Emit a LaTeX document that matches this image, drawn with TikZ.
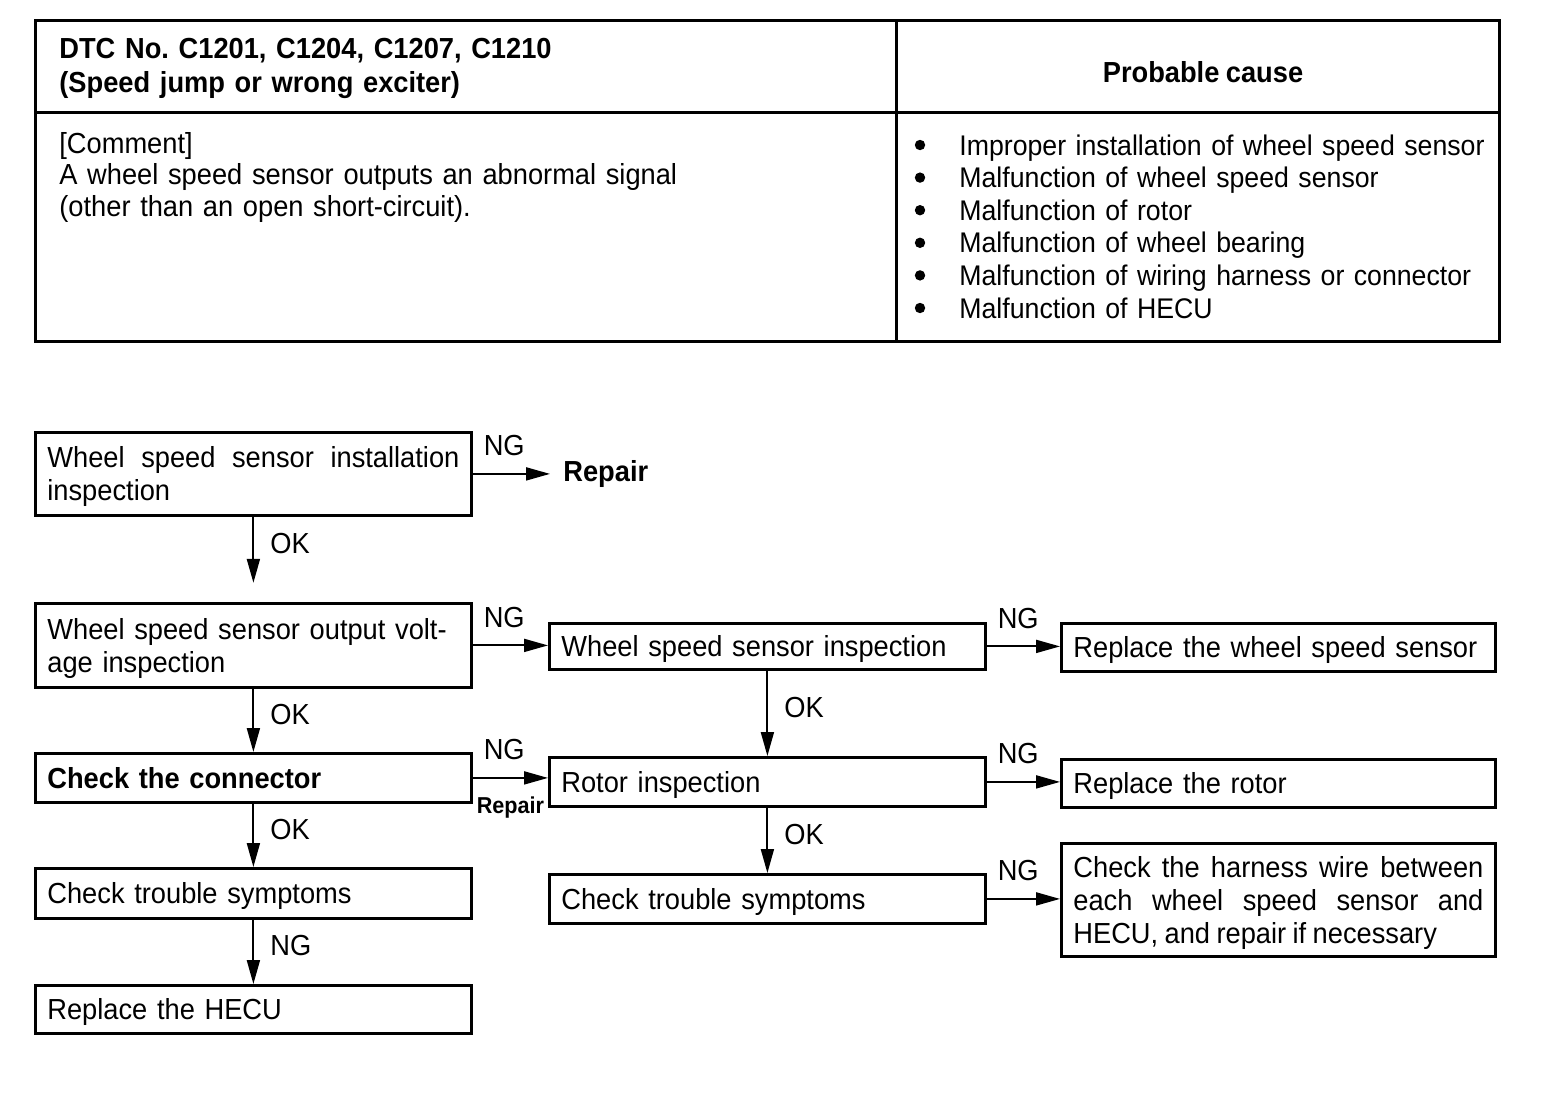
\documentclass[tikz,border=0pt]{standalone}
\usepackage{fontspec}
\setmainfont{Liberation Sans}[FakeStretch=0.94, WordSpace=0.85]
\usetikzlibrary{arrows.meta}
\newcommand\bodyfont{\fontsize{14.5}{16.5}\selectfont\frenchspacing}
\newcommand\topstrut{\rule{0pt}{14.4pt}}
\newcommand\botstrut{\rule[-4pt]{0pt}{4pt}}

\begin{document}
\begin{tikzpicture}[x=0.5pt, y=-0.5pt, font=\bodyfont,
    box/.style={draw, line width=1.4pt, anchor=north west, inner xsep=6pt, inner ysep=2pt, align=left},
    lbox/.style={box, minimum width=218pt, text width=206pt},
    rbox/.style={box, minimum width=217pt, text width=205pt},
    arr/.style={-{Triangle[length=12pt,width=6.5pt]}, line width=1pt},
    ng/.style={pos=0, anchor=base west, xshift=5pt, yshift=9pt, inner sep=0pt},
    ok/.style={midway, anchor=west, xshift=8pt, yshift=3pt, inner sep=0pt},
    rep/.style={midway, anchor=north, yshift=-9pt, inner sep=0pt, font=\bfseries\fontsize{11.5}{13}\selectfont}]
    \useasboundingbox (0,0) rectangle (1568,1098);

    % table
    \draw[line width=1.5pt] (35,20) rectangle (1499,341);
    \draw[line width=1.5pt] (35,112) -- (1499,112);
    \draw[line width=1.5pt] (896,20) -- (896,341);

    \node[anchor=base west, inner sep=0pt, text width=420pt, align=left, font=\bfseries\fontsize{14.5}{17}\selectfont\frenchspacing] (dtc) at (59,58)
        {DTC No. C1201, C1204, C1207, C1210\\(Speed jump or wrong exciter)};
    \node[anchor=base, inner sep=0pt, font=\bfseries\bodyfont] (cause) at (1203,82) {Probable cause};
    \node[anchor=base west, inner sep=0pt, text width=400pt, align=left, font=\fontsize{14.5}{15.8}\selectfont\frenchspacing] (comment) at (59,153)
        {[Comment]\\A wheel speed sensor outputs an abnormal signal\\(other than an open short-circuit).};
    \fill (920,145) circle (2.6pt) (920,177.6) circle (2.6pt) (920,210.2) circle (2.6pt)
          (920,242.8) circle (2.6pt) (920,275.4) circle (2.6pt) (920,308) circle (2.6pt);
    \node[anchor=base west, inner sep=0pt, text width=270pt, align=left, font=\fontsize{14.2}{16.3}\selectfont\frenchspacing] (causes) at (959,155)
        {Improper installation of wheel speed sensor\\
         Malfunction of wheel speed sensor\\
         Malfunction of rotor\\
         Malfunction of wheel bearing\\
         Malfunction of wiring harness or connector\\
         Malfunction of HECU};

    % flow chart
    \node[lbox, minimum height=41.5pt, align=justify] (b1) at (34,431) {\topstrut Wheel speed sensor installation\linebreak inspection\botstrut};
    \node[lbox, minimum height=42pt] (b2) at (34,602) {\topstrut Wheel speed sensor output volt-\\age inspection\botstrut};
    \node[lbox, minimum height=24.5pt, font=\bfseries\bodyfont] (b5) at (34,752) {\topstrut Check the connector\botstrut};
    \node[lbox, minimum height=25pt] (b8) at (34,867) {\topstrut Check trouble symptoms\botstrut};
    \node[lbox, minimum height=24pt] (b9) at (34,984) {\topstrut Replace the HECU\botstrut};
    \node[lbox, minimum height=23pt] (b3) at (548,622) {\topstrut Wheel speed sensor inspection\botstrut};
    \node[lbox, minimum height=24.5pt] (b6) at (548,756) {\topstrut Rotor inspection\botstrut};
    \node[lbox, minimum height=24.5pt] (b10) at (548,873) {\topstrut Check trouble symptoms\botstrut};
    \node[rbox, minimum height=24pt] (b4) at (1060,622) {\topstrut Replace the wheel speed sensor\botstrut};
    \node[rbox, minimum height=24pt] (b7) at (1060,758) {\topstrut Replace the rotor\botstrut};
    \node[rbox, minimum height=56.5pt, align=justify] (b11) at (1060,842)
        {\topstrut Check the harness wire between\linebreak each wheel speed sensor and\linebreak HECU, and repair if necessary\botstrut};
    \node[anchor=west, inner sep=0pt, inner xsep=6.5pt, font=\bfseries\bodyfont] (repair) at (550,474) {Repair};
    \path (b1.south) ++(0,66) coordinate (b1ok);

    \draw[arr] (b1.east) -- (b1.east -| repair.west) node[ng] {NG};
    \draw[arr] (b1.south) -- (b1ok) node[ok] {OK};
    \draw[arr] (b2.east) -- (b2.east -| b3.west) node[ng] {NG};
    \draw[arr] (b3.east) -- (b3.east -| b4.west) node[ng] {NG};
    \draw[arr] (b2.south) -- (b5.north) node[ok] {OK};
    \draw[arr] (b3.south) -- (b6.north) node[ok] {OK};
    \draw[arr] (b5.east) -- (b5.east -| b6.west) node[ng] {NG} node[rep] {Repair};
    \draw[arr] (b6.east) -- (b6.east -| b7.west) node[ng] {NG};
    \draw[arr] (b5.south) -- (b8.north) node[ok] {OK};
    \draw[arr] (b6.south) -- (b10.north) node[ok] {OK};
    \draw[arr] (b8.south) -- (b9.north) node[ok] {NG};
    \draw[arr] (b10.east) -- (b10.east -| b11.west) node[ng] {NG};
\end{tikzpicture}
\end{document}
